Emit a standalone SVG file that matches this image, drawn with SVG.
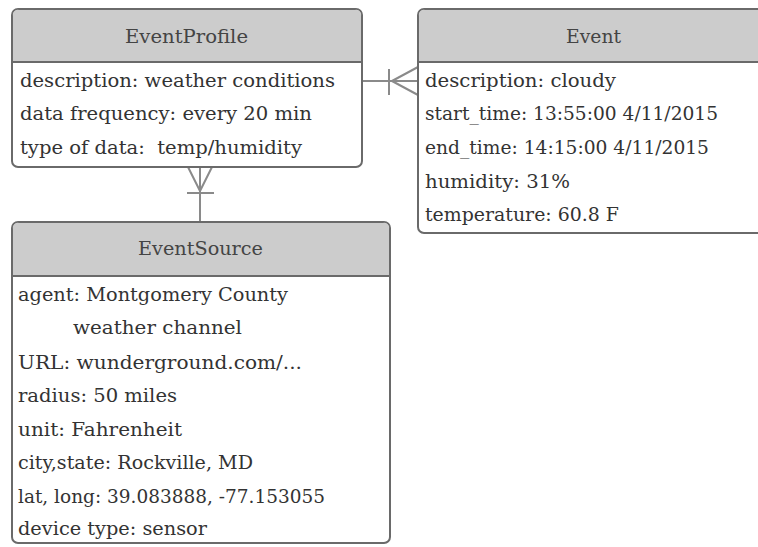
<svg xmlns="http://www.w3.org/2000/svg" width="758" height="547" viewBox="0 0 758 547">
<style>
.box{fill:#ffffff;stroke:#6a6a6a;stroke-width:2}
.hdr{fill:#cccccc;stroke:none}
.sep{stroke:#6a6a6a;stroke-width:2}
.t{font-family:"DejaVu Serif","Liberation Serif",serif;font-size:18.5px;fill:#333333}
.h{font-family:"DejaVu Serif","Liberation Serif",serif;font-size:18.5px;fill:#444444}
.c{stroke:#8a8a8a;stroke-width:2;fill:none}
</style>
<rect width="758" height="547" fill="#ffffff"/>
<g id="connectors">
<path class="c" d="M362,81 H418 M389,69 V95 M392,81 L418,67 M392,81 L418,95"/>
<path class="c" d="M200,167 V222 M187,193 H214 M200,191 L188,167 M200,191 L212,167"/>
</g>
<g id="EventProfile">
<rect class="box" x="12" y="9" width="350" height="158" rx="6"/>
<path class="hdr" d="M19,10 H355 A5,5 0 0 1 361,16 V62 H13 V16 A5,5 0 0 1 19,10 Z"/>
<line class="sep" x1="12" y1="62" x2="362" y2="62"/>
<text class="h" x="125" y="43" textLength="123" lengthAdjust="spacingAndGlyphs">EventProfile</text>
<text class="t" x="20" y="87" textLength="315" lengthAdjust="spacingAndGlyphs">description: weather conditions</text>
<text class="t" x="20" y="120" textLength="292" lengthAdjust="spacingAndGlyphs">data frequency: every 20 min</text>
<text class="t" x="20" y="154" textLength="282" lengthAdjust="spacingAndGlyphs">type of data:&#160; temp/humidity</text>
</g>
<g id="Event">
<rect class="box" x="418" y="9" width="350" height="224" rx="6"/>
<path class="hdr" d="M425,10 H767 V62 H419 V16 A5,5 0 0 1 425,10 Z"/>
<line class="sep" x1="418" y1="62" x2="768" y2="62"/>
<text class="h" x="566" y="43" textLength="55" lengthAdjust="spacingAndGlyphs">Event</text>
<text class="t" x="425" y="87" textLength="191" lengthAdjust="spacingAndGlyphs">description: cloudy</text>
<text class="t" x="425" y="120" textLength="293" lengthAdjust="spacingAndGlyphs">start_time: 13:55:00 4/11/2015</text>
<text class="t" x="425" y="154" textLength="284" lengthAdjust="spacingAndGlyphs">end_time: 14:15:00 4/11/2015</text>
<text class="t" x="425" y="188" textLength="145" lengthAdjust="spacingAndGlyphs">humidity: 31%</text>
<text class="t" x="425" y="221" textLength="194" lengthAdjust="spacingAndGlyphs">temperature: 60.8 F</text>
</g>
<g id="EventSource">
<rect class="box" x="12" y="222" width="378" height="321" rx="6"/>
<path class="hdr" d="M19,223 H383 A5,5 0 0 1 389,229 V276 H13 V229 A5,5 0 0 1 19,223 Z"/>
<line class="sep" x1="12" y1="276" x2="390" y2="276"/>
<text class="h" x="138" y="255" textLength="125" lengthAdjust="spacingAndGlyphs">EventSource</text>
<text class="t" x="18" y="301" textLength="270" lengthAdjust="spacingAndGlyphs">agent: Montgomery County</text>
<text class="t" x="73" y="334" textLength="169" lengthAdjust="spacingAndGlyphs">weather channel</text>
<text class="t" x="18" y="369" textLength="284" lengthAdjust="spacingAndGlyphs">URL: wunderground.com/...</text>
<text class="t" x="18" y="402" textLength="159" lengthAdjust="spacingAndGlyphs">radius: 50 miles</text>
<text class="t" x="18" y="436" textLength="164" lengthAdjust="spacingAndGlyphs">unit: Fahrenheit</text>
<text class="t" x="18" y="469" textLength="235" lengthAdjust="spacingAndGlyphs">city,state: Rockville, MD</text>
<text class="t" x="18" y="503" textLength="307" lengthAdjust="spacingAndGlyphs">lat, long: 39.083888, -77.153055</text>
<text class="t" x="18" y="535" textLength="189" lengthAdjust="spacingAndGlyphs">device type: sensor</text>
</g>
</svg>
